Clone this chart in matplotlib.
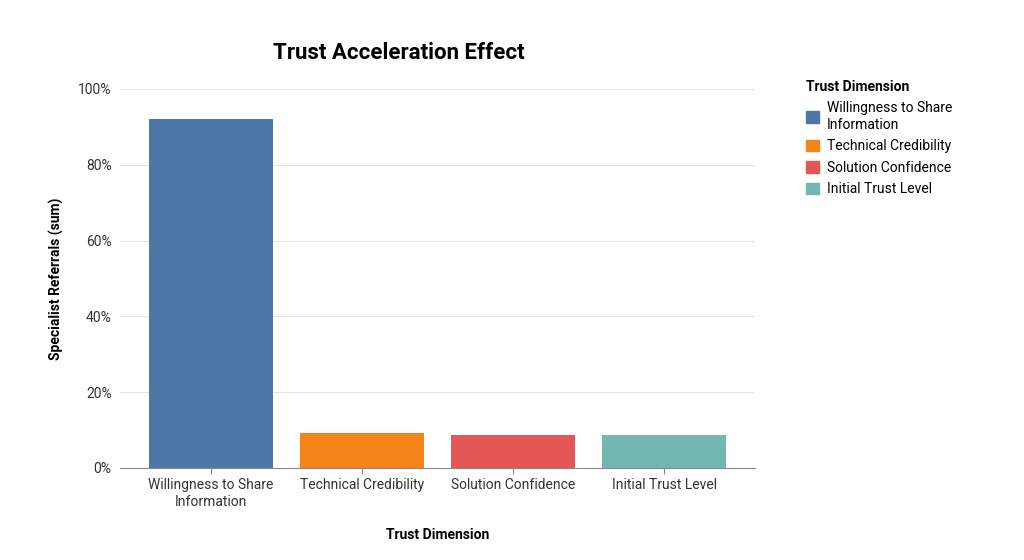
import matplotlib
matplotlib.use("Agg")
import matplotlib.pyplot as plt
from matplotlib.patches import Patch
from matplotlib.ticker import FuncFormatter

plt.rcParams["font.family"] = "Roboto"

categories = ["Willingness to Share\nInformation", "Technical Credibility", "Solution Confidence", "Initial Trust Level"]
legend_labels = ["Willingness to Share\nInformation", "Technical Credibility", "Solution Confidence", "Initial Trust Level"]
values = [92.1, 9.3, 8.8, 8.8]
colors = ["#4c78a8", "#f58518", "#e45756", "#72b7b2"]

fig = plt.figure(figsize=(10.24, 5.6), dpi=100)
ax = fig.add_axes([0.1172, 0.1643, 0.62, 0.6768])
x = range(len(categories))
ax.bar(x, values, width=0.82, color=colors)
ax.set_xlim(-0.6, 3.6)
ax.set_ylim(0, 100)
ax.set_yticks([0, 20, 40, 60, 80, 100])
ax.yaxis.set_major_formatter(FuncFormatter(lambda v, p: f"{int(v)}%"))
ax.set_xticks(list(x))
ax.set_xticklabels(categories, fontsize=10, color="#333333")
ax.tick_params(axis="y", length=0, labelsize=10, labelcolor="#333333", pad=6)
ax.tick_params(axis="x", length=4, color="#888888", labelsize=10)
ax.grid(axis="y", color="#e6e6e6", linewidth=0.8)
ax.set_axisbelow(True)
for s in ["top", "right", "left"]:
    ax.spines[s].set_visible(False)
ax.spines["bottom"].set_color("#888888")
ax.set_ylabel("Specialist Referrals (sum)", fontsize=10, fontweight="bold", labelpad=10)
ax.set_xlabel("Trust Dimension", fontsize=10, fontweight="bold", labelpad=14)
fig.text(0.389, 0.905, "Trust Acceleration Effect", ha="center", va="center", fontsize=16, fontweight="bold")
handles = [Patch(color=c, label=l) for c, l in zip(colors, legend_labels)]
leg = fig.legend(handles=handles, title="Trust Dimension", loc="upper left",
                 bbox_to_anchor=(0.775, 0.88), frameon=False, fontsize=10,
                 title_fontproperties={"weight": "bold", "size": 10},
                 handlelength=0.9, handleheight=0.9, handletextpad=0.6, labelspacing=0.55)
leg._legend_box.align = "left"
fig.savefig("out.png", dpi=100)
